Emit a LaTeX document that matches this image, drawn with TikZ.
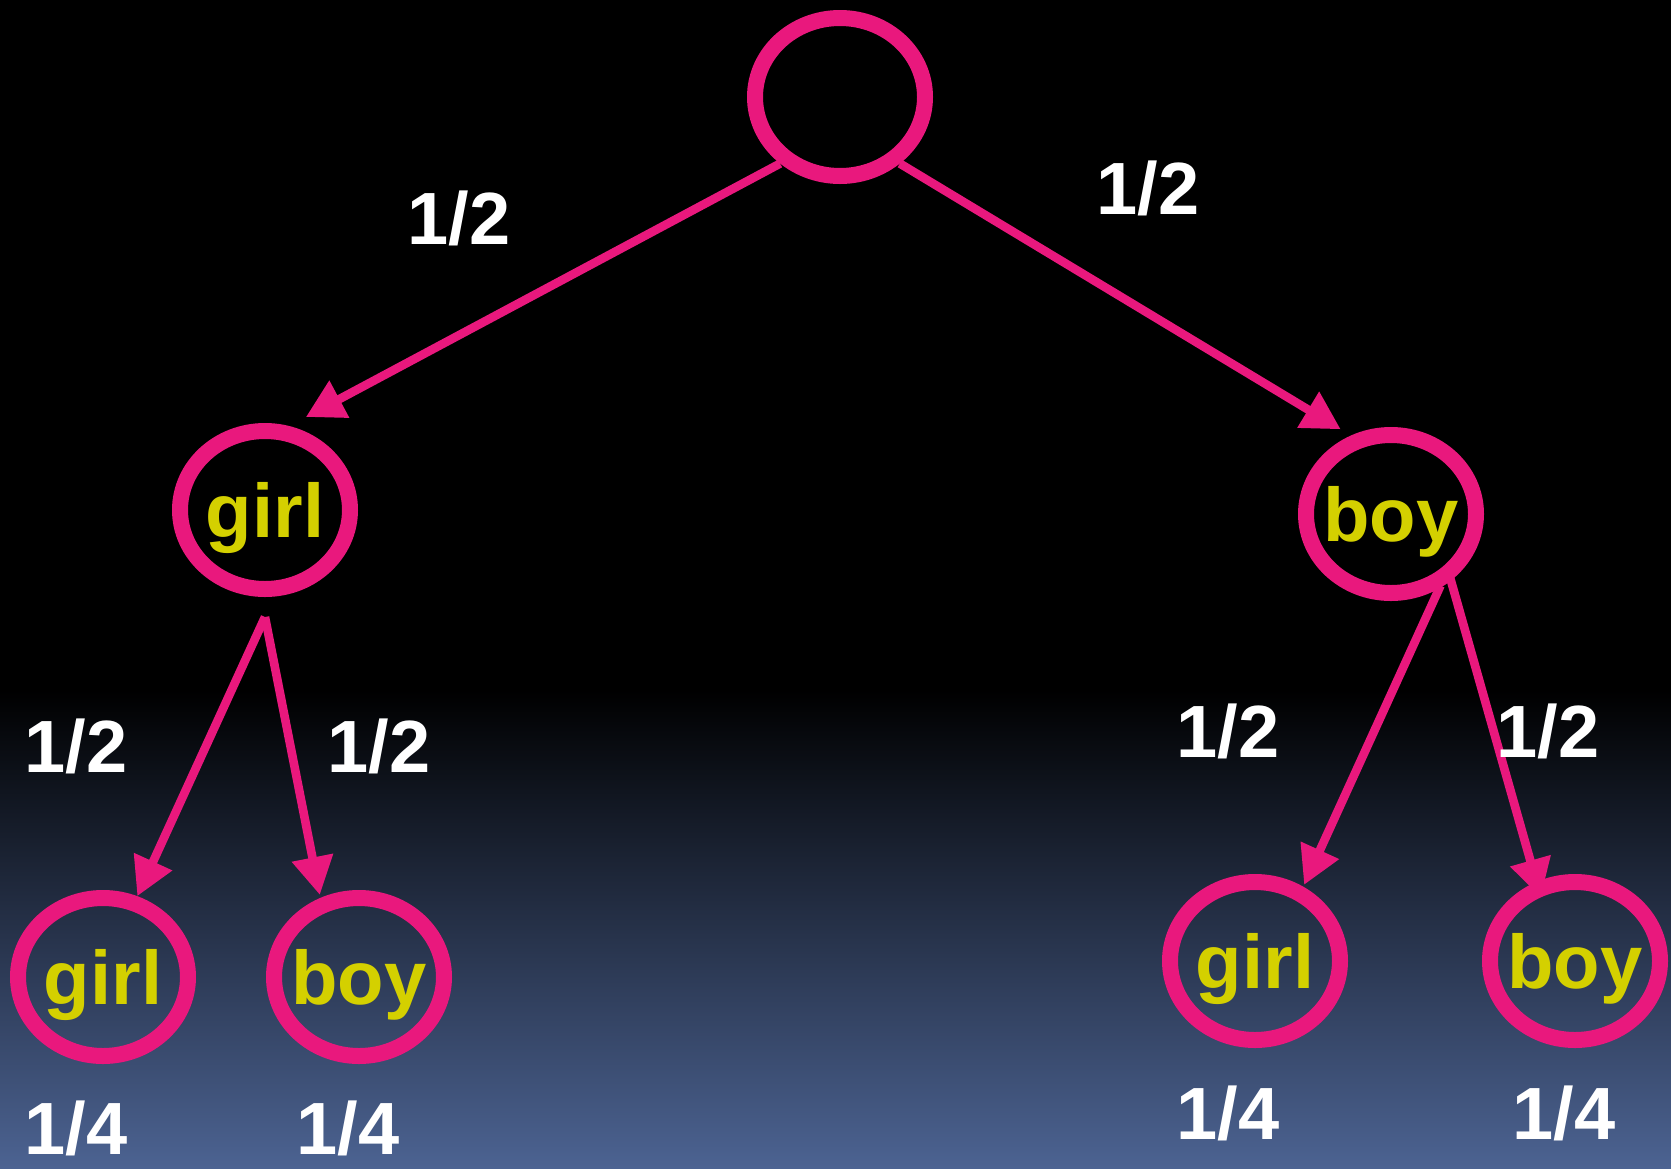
\documentclass[tikz,border=0pt]{standalone}
\usepackage{fontspec}
\setmainfont{Liberation Sans}
\usetikzlibrary{shapes.geometric,arrows.meta}

\definecolor{hotpink}{RGB}{233,24,125}
\definecolor{kidyellow}{RGB}{212,208,0}
\definecolor{slateblue}{RGB}{76,99,146}

\begin{document}
\begin{tikzpicture}[x=0.5pt, y=-0.5pt,
    kid/.style={ellipse, draw=hotpink, line width=8pt, minimum width=85pt,
                minimum height=79pt, inner sep=-4pt, text=kidyellow,
                text height=27pt, text depth=0pt,
                font=\fontsize{38}{38}\selectfont\bfseries},
    prob/.style={text=white, font=\fontsize{37}{37}\selectfont\bfseries},
    arr/.style={draw=hotpink, line width=4.3pt,
                -{Triangle[length=19pt, width=20pt]}}]
                % background
                \fill[black] (0,0) rectangle (1671,692);
                \shade[top color=black, bottom color=slateblue] (0,690) rectangle (1671,1168);
                \useasboundingbox (0,0) rectangle (1671,1168);

                \node[kid] (root) at (840,97) {};
                \node[kid] (girl1) at (265,510) {girl};
                \node[kid] (boy1) at (1391,514) {boy};
                \node[kid] (girl2a) at (103,977) {girl};
                \node[kid] (boy2a) at (359,977) {boy};
                \node[kid] (girl2b) at (1255,961) {girl};
                \node[kid] (boy2b) at (1575,961) {boy};
                \coordinate (girl1 fork) at ([yshift=-10pt]girl1.south);

                \draw[arr, shorten >=9.5pt] (root.228) -- (girl1.74);
                \draw[arr, shorten >=6pt] (root.-48) -- (boy1.117);
                \draw[arr] (girl1 fork) -- (girl2a.67);
                \draw[arr, shorten >=1.5pt] (girl1 fork) -- (boy2a.116);
                \draw[arr, shorten <=-1.5pt, shorten >=1pt] (boy1.-57) -- (girl2b.57);
                \draw[arr, shorten <=-1.5pt, shorten >=-8pt] (boy1.-48) -- (boy2b.116);

                \node[prob] (pgirl1) at (459,218) {1/2};
                \node[prob] (pboy1) at (1148,188) {1/2};
                \node[prob] (pgirl2a) at (76,746) {1/2};
                \node[prob] (pboy2a) at (379,746) {1/2};
                \node[prob] (pgirl2b) at (1228,731) {1/2};
                \node[prob] (pboy2b) at (1548,731) {1/2};

                \node[prob] (qgirl2a) at (76,1128) {1/4};
                \node[prob] (qboy2a) at (348,1128) {1/4};
                \node[prob] (qgirl2b) at (1228,1113) {1/4};
                \node[prob] (qboy2b) at (1564,1113) {1/4};
            \end{tikzpicture}
\end{document}
